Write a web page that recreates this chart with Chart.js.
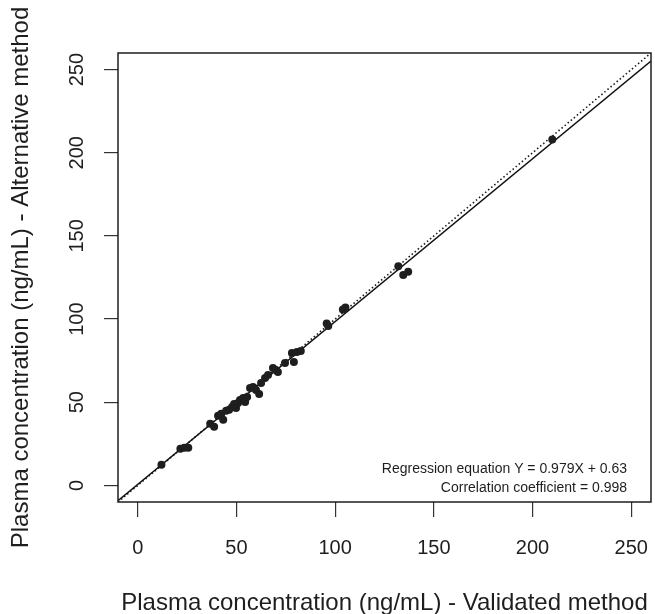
<!DOCTYPE html>
<html>
<head>
<meta charset="utf-8">
<script src="https://cdn.jsdelivr.net/npm/chart.js@4.4.1/dist/chart.umd.min.js"></script>
<style>
  html, body { margin: 0; padding: 0; background: #fff; }
  canvas { display: block; }
</style>
</head>
<body>
<canvas id="chart" width="655" height="614"></canvas>
<script>
// values (ng/mL)
const validated = [12, 21.6, 23.6, 25.6, 36.7, 38.7, 40.7, 42.3, 43.3, 44.8, 46.3, 47.8, 48.8, 49.8,
  50.8, 51.8, 53.4, 54.4, 55.4, 56.9, 58.4, 59.9, 61.5, 62.5, 64.5, 66, 68.5, 70, 71, 74.6,
  78.1, 79.1, 80.6, 82.6, 95.7, 96.5, 103.9, 105.2, 132, 134.5, 137, 210];
const alternative = [12.4, 22, 22.6, 22.6, 37, 35.2, 41.8, 43, 39.4, 44.8, 45.4, 47.2, 49, 46.6,
  49.6, 51.4, 52.6, 50.2, 53.2, 58.6, 59.2, 57.4, 55, 61.6, 64.6, 66.4, 70.6, 69.4, 68.2, 73.6,
  79.6, 74.2, 80.2, 80.8, 97.4, 95.8, 105.8, 107, 131.8, 126.5, 128.5, 208];
const xTicks = [0, 50, 100, 150, 200, 250];
const yTicks = [0, 50, 100, 150, 200, 250];
const axisRange = [-10, 260];
const slope = 0.979, intercept = 0.63;
const xTitle = 'Plasma concentration (ng/mL) - Validated method';
const yTitle = 'Plasma concentration (ng/mL) - Alternative method';
const notes = ['Regression equation Y = 0.979X + 0.63', 'Correlation coefficient = 0.998'];

const FONT = '"Liberation Sans", Arial, sans-serif';
const INK = '#1e1e1e';

const points = validated.map((v, i) => ({ x: v, y: alternative[i] }));
const fitLine = axisRange.map(v => ({ x: v, y: slope * v + intercept }));
const identity = axisRange.map(v => ({ x: v, y: v }));

// box, rotated y labels, titles and the note text
const frame = {
  id: 'frame',
  afterDraw(chart) {
    const { ctx, chartArea: a, scales: { y } } = chart;
    ctx.save();
    ctx.strokeStyle = INK;
    ctx.lineWidth = 1.5;
    ctx.strokeRect(a.left, a.top, a.right - a.left, a.bottom - a.top);

    ctx.fillStyle = INK;
    ctx.textAlign = 'center';
    ctx.textBaseline = 'alphabetic';
    ctx.font = '20px ' + FONT;
    yTicks.forEach(v => {
      ctx.save();
      ctx.translate(83, y.getPixelForValue(v));
      ctx.rotate(-Math.PI / 2);
      ctx.fillText(String(v), 0, 0);
      ctx.restore();
    });

    ctx.font = '24px ' + FONT;
    ctx.fillText(xTitle, (a.left + a.right) / 2, 610);
    ctx.save();
    ctx.translate(28, (a.top + a.bottom) / 2);
    ctx.rotate(-Math.PI / 2);
    ctx.fillText(yTitle, 0, 0);
    ctx.restore();

    ctx.font = '14px ' + FONT;
    ctx.textAlign = 'right';
    ctx.fillText(notes[0], 627, 473);
    ctx.fillText(notes[1], 627, 492);
    ctx.restore();
  }
};

new Chart(document.getElementById('chart'), {
  type: 'scatter',
  data: {
    datasets: [
      { data: points, pointRadius: 4, pointBackgroundColor: INK, pointBorderWidth: 0 },
      { type: 'line', data: fitLine, borderColor: '#111', borderWidth: 1.5, pointRadius: 0, fill: false },
      { type: 'line', data: identity, borderColor: '#1a1a1a', borderWidth: 1.6, borderDash: [1.5, 2.5], pointRadius: 0, fill: false }
    ]
  },
  options: {
    responsive: false,
    animation: false,
    events: [],
    layout: { padding: { left: 0, top: 53, right: 2, bottom: 0 } },
    plugins: { legend: { display: false }, tooltip: { enabled: false } },
    scales: {
      x: {
        type: 'linear', min: axisRange[0], max: axisRange[1],
        afterBuildTicks: s => { s.ticks = xTicks.map(v => ({ value: v })); },
        afterFit: s => { s.height = 112; s.paddingLeft = 0; s.paddingRight = 0; },
        border: { display: false },
        grid: { display: true, drawOnChartArea: false, drawTicks: true, tickLength: 15, color: '#333', lineWidth: 1.2 },
        ticks: { color: INK, font: { family: FONT, size: 20 }, padding: 19, maxRotation: 0 }
      },
      y: {
        type: 'linear', min: axisRange[0], max: axisRange[1],
        afterBuildTicks: s => { s.ticks = yTicks.map(v => ({ value: v })); },
        afterFit: s => { s.width = 118; s.paddingTop = 0; s.paddingBottom = 0; },
        border: { display: false },
        grid: { display: true, drawOnChartArea: false, drawTicks: true, tickLength: 14, color: '#333', lineWidth: 1.2 },
        ticks: { display: false }
      }
    }
  },
  plugins: [frame]
});
</script>
</body>
</html>
